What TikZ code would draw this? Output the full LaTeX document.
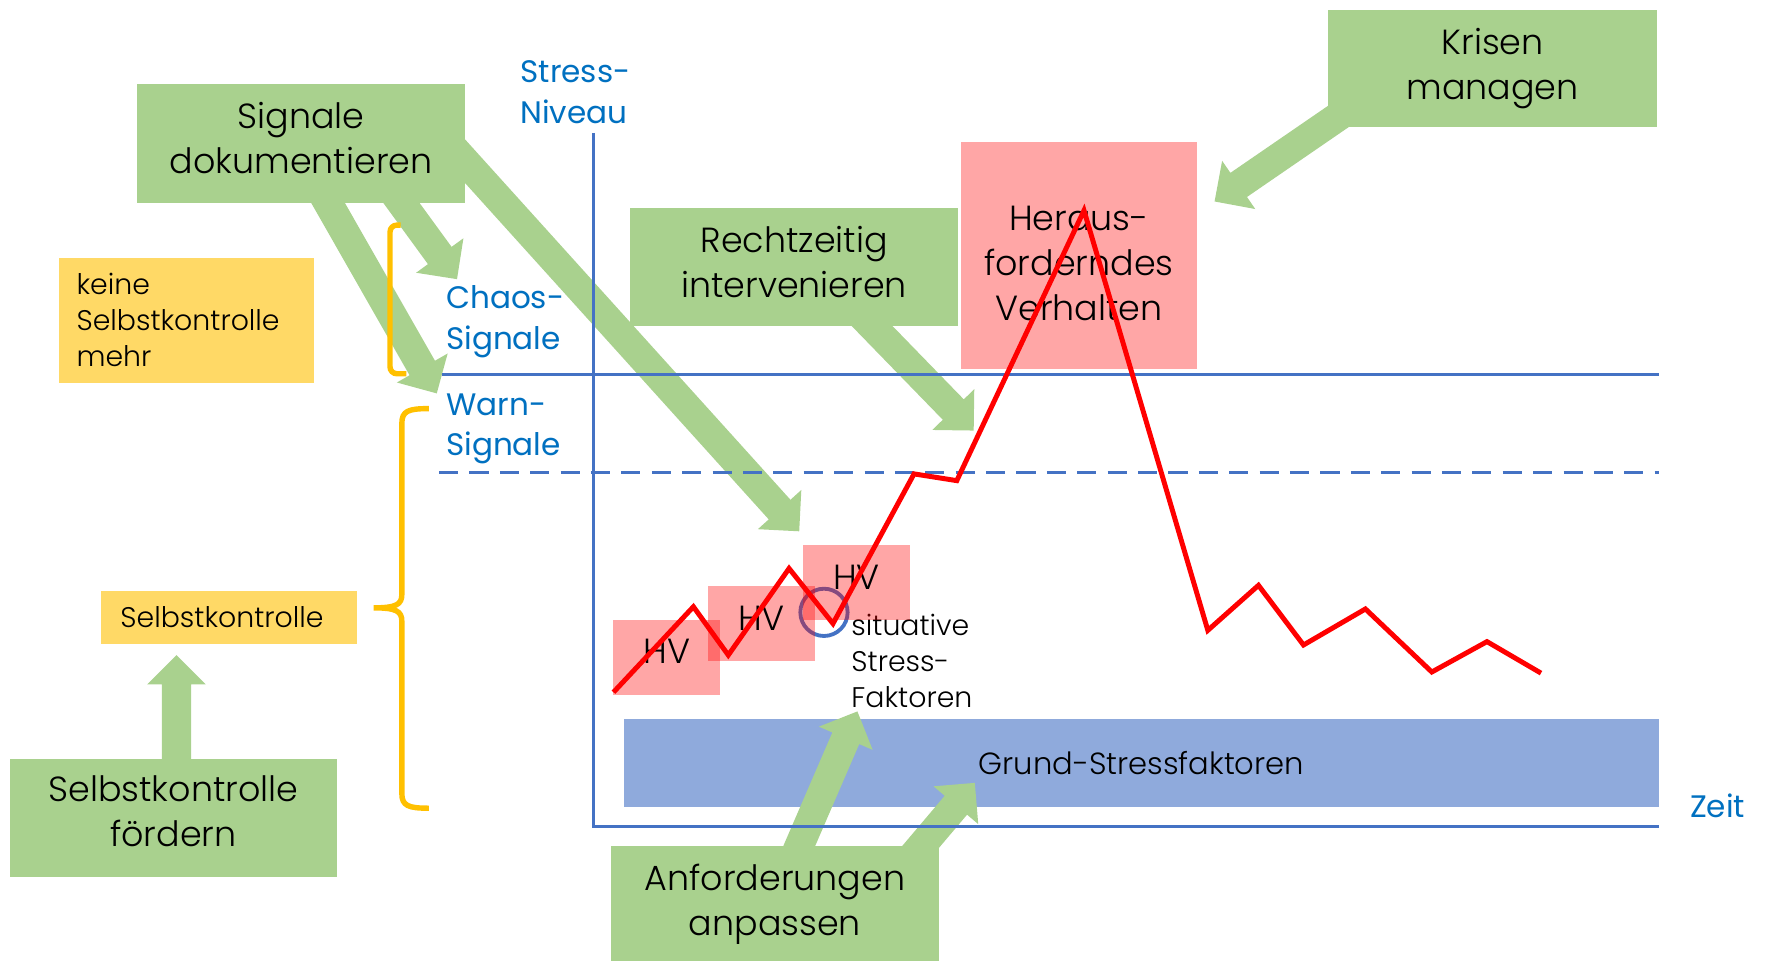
\documentclass[tikz,border=0pt]{standalone}
\usepackage{fontspec}
\setmainfont{Poppins Light}
\newfontfamily\labelfont{Poppins}
\usetikzlibrary{calc}

\definecolor{grn}{HTML}{A9D18E}
\definecolor{ylw}{HTML}{FFD966}
\definecolor{pnk}{HTML}{FFA6A6}
\definecolor{barblue}{HTML}{8FAADC}
\definecolor{axisblue}{HTML}{4472C4}
\definecolor{lblblue}{HTML}{0070C0}
\definecolor{brk}{HTML}{FFC000}

\pgfdeclarelayer{back}
\pgfdeclarelayer{arrows}
\pgfdeclarelayer{lines}
\pgfsetlayers{back,arrows,lines,main}

\newcommand{\bigtxt}{\fontsize{15.5}{20}\selectfont}
\newcommand{\lbltxt}{\labelfont\fontsize{13.8}{18}\selectfont}
\newcommand{\smltxt}{\fontsize{12.6}{16}\selectfont}

% wide block arrow from #1 (tail) to #2 (tip)
\newcommand{\blockarrow}[2]{%
  \coordinate (hb) at ($(#2)!13pt!(#1)$);
  \fill[grn] ($(#1)!6.5pt!90:(#2)$) -- ($(hb)!6.5pt!90:(#2)$)
    -- ($(hb)!13pt!90:(#2)$) -- (#2) -- ($(hb)!13pt!-90:(#2)$)
    -- ($(hb)!6.5pt!-90:(#2)$) -- ($(#1)!6.5pt!-90:(#2)$) -- cycle;}

\tikzset{
  gbox/.style={fill=grn, inner sep=0pt},
  btxt/.style={font=\bigtxt, align=center, inner sep=0pt},
  ybox/.style={fill=ylw, inner xsep=8pt, inner ysep=0pt, align=left, font=\smltxt},
  hvbox/.style={fill=red, fill opacity=0.35, inner sep=0pt,
    minimum width=47.5pt, minimum height=33pt},
  hvtxt/.style={font=\bigtxt, text opacity=1, fill opacity=1, yshift=2.5pt},
  lbl/.style={text=lblblue, font=\lbltxt, align=left, inner sep=0pt, anchor=west},
  axisline/.style={draw=axisblue, line width=1.4pt},
  bracket/.style={draw=brk, line width=2.4pt},
  stressline/.style={draw=red, line width=2.2pt, line join=miter},
}

\begin{document}
\begin{tikzpicture}[x=0.5pt,y=-0.5pt]
\useasboundingbox (0,0) rectangle (1568,855);

% ---- boxes ----
\node[gbox, minimum width=145.5pt, minimum height=52.5pt,
  label={[btxt,yshift=2.5pt]center:{Signale\\dokumentieren}}] (sig) at (267.5,127.5) {};
\node[gbox, minimum width=146pt, minimum height=52pt,
  label={[btxt]center:{Krisen\\managen}}] (kri) at (1326,61) {};
\node[gbox, minimum width=145.5pt, minimum height=52.5pt,
  label={[btxt,yshift=2.3pt]center:{Rechtzeitig\\intervenieren}}] (rec) at (705.5,237.5) {};
\node[gbox, minimum width=145pt, minimum height=52.5pt,
  label={[btxt,yshift=3pt]center:{Selbstkontrolle\\fördern}}] (sfo) at (154,726.5) {};
\node[gbox, minimum width=145.5pt, minimum height=51pt,
  label={[btxt]center:{Anforderungen\\anpassen}}] (anf) at (688.5,803) {};
\node[fill=pnk, inner sep=0pt, minimum width=104.5pt, minimum height=101pt,
  label={[btxt,yshift=-3.5pt]center:{Heraus-\\forderndes\\Verhalten}}] (her) at (958.5,227) {};

\node[ybox, minimum width=113.5pt, minimum height=55.5pt, text width=97.5pt] (kein) at (165.5,284.5) {keine\\Selbstkontrolle\\mehr};
\node[ybox, minimum width=113.5pt, minimum height=23.5pt, text width=96.5pt, inner xsep=8.5pt] (selb) at (203.5,548.5) {Selbstkontrolle};

\begin{pgfonlayer}{back}
  \node[fill=barblue, inner sep=0pt, minimum width=460pt, minimum height=39pt,
        font=\fontsize{13.6}{16}\selectfont] (grund) at (1014,678) {Grund-Stressfaktoren};
\end{pgfonlayer}

% ---- axis labels ----
\node[lbl] (niv) at (462,82) {Stress-\\Niveau};
\node[lbl] (chaos) at (396,286) {Chaos-\\Signale};
\node[lbl] (warn) at (396,381) {Warn-\\Signale};
\node[lbl] (zeit) at (1501,716) {Zeit};
\node[font=\smltxt, align=left, inner sep=0pt, anchor=west] (sitx) at (756,587) {situative\\Stress-\\Faktoren};

% ---- axes, levels, brackets, marker circle ----
\begin{pgfonlayer}{lines}
  \draw[axisline] (527,118) -- (527,734) -- (1474,734);
  \draw[axisline] (393,333) -- (1474,333);
  \draw[axisline, dash pattern=on 8.5pt off 5pt] (390,420) -- (1474,420);
  \draw[bracket, rounded corners=3pt] (356,200) -- (346.5,200) -- (346.5,332) -- (361,332);
  \draw[bracket] (381,363) .. controls (363,363) and (357,365) .. (357,376)
    -- (357,528) .. controls (357,537) and (352,540) .. (332,540)
    .. controls (352,540) and (357,543) .. (357,552)
    -- (357,705) .. controls (357,716) and (363,718) .. (381,718);
  \node[draw=axisblue, line width=1.7pt, circle, minimum size=21pt, inner sep=0pt] (sit) at (732,544) {};
\end{pgfonlayer}

% ---- situative peaks ----
\node[hvbox, label={[hvtxt]center:HV}] (hv1) at (592.5,584) {};
\node[hvbox, label={[hvtxt]center:HV}] (hv2) at (676.5,554) {};
\node[hvbox, label={[hvtxt]center:HV}] (hv3) at (761,517.5) {};

% ---- stress curve ----
\draw[stressline] (545,615) -- (616,539) -- (647,582) -- (701,505) -- (740,554)
  -- (812,421) -- (850,427) -- (963,187) -- (1073,560) -- (1118,520) -- (1158,573)
  -- (1213,541) -- (1272,597) -- (1321,570) -- (1369,598);

% ---- block arrows ----
\coordinate (t1) at (406,248);
\coordinate (t2) at (388,349.5);
\coordinate (t3) at (710,472);
\coordinate (t4) at (865,382.5);
\coordinate (t5) at (1079,179);
\coordinate (t6) at (156.7,582);
\coordinate (t7) at (761.7,632);
\coordinate (t8) at (866,695.5);
\begin{pgfonlayer}{arrows}
  \coordinate (s1) at ($([xshift=44.6pt]sig.south)!-10pt!(t1)$);
  \coordinate (s2) at ($([xshift=12pt]sig.south)!-10pt!(t2)$);
  \coordinate (s3) at ($([yshift=-8pt]sig.east)!-12pt!(t3)$);
  \coordinate (s4) at ($([xshift=35pt]rec.south)!-10pt!(t4)$);
  \coordinate (s5) at ($([xshift=4pt,yshift=4.5pt]kri.south west)!-12pt!(t5)$);
  \coordinate (s6) at ($([xshift=1.35pt]sfo.north)!-6pt!(t6)$);
  \coordinate (s7) at ($([xshift=10.75pt]anf.north)!-10pt!(t7)$);
  \coordinate (s8) at ($([xshift=65pt]anf.north)!-12pt!(t8)$);
  \blockarrow{s1}{t1}
  \blockarrow{s2}{t2}
  \blockarrow{s3}{t3}
  \blockarrow{s4}{t4}
  \blockarrow{s5}{t5}
  \blockarrow{s6}{t6}
  \blockarrow{s7}{t7}
  \blockarrow{s8}{t8}
\end{pgfonlayer}
\end{tikzpicture}
\end{document}
